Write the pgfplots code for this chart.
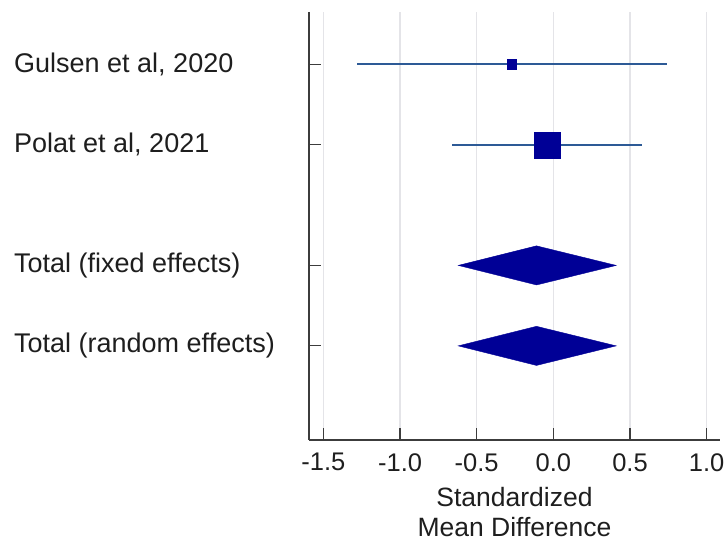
\documentclass[border=0pt]{standalone}
\usepackage{pgfplots}
\pgfplotsset{compat=1.18}
\usepackage{fontspec}
\setmainfont{Liberation Sans}
\definecolor{mk}{RGB}{0,0,150}
\definecolor{ci}{RGB}{45,90,150}
\definecolor{ax}{RGB}{60,60,60}
\definecolor{gr}{RGB}{228,228,232}
\definecolor{tx}{RGB}{30,30,30}
\begin{document}
\begin{tikzpicture}
\begin{axis}[
  scale only axis,
  width=411pt, height=428pt,
  xmin=-1.594, xmax=1.087,
  ymin=0.35, ymax=5.67,
  y dir=reverse,
  axis x line*=bottom, axis y line*=left,
  axis line style={ax, line width=1.5pt},
  xtick={-1.5,-1,-0.5,0,0.5,1},
  xticklabels={-1.5,-1.0,-0.5,0.0,0.5,1.0},
  ytick={1,2,3.5,4.5},
  yticklabels={{Gulsen et al, 2020},{Polat et al, 2021},{Total (fixed effects)},{Total (random effects)}},
  tick align=inside,
  major tick length=12pt,
  tick style={ax, line width=1.2pt},
  xmajorgrids=true,
  grid style={gr, line width=1.5pt},
  /pgf/number format/assume math mode=true,
  every tick label/.append style={text=tx},
  xticklabel style={font=\fontsize{25.5}{30}\selectfont, inner sep=0pt, yshift=-13pt},
  yticklabel style={font=\fontsize{27}{32}\selectfont, anchor=west, inner sep=0pt, xshift=-295pt},
  xlabel={Standardized\\Mean Difference},
  xlabel style={align=center, font=\fontsize{26.5}{30}\selectfont, text=tx, inner sep=0pt, yshift=-16pt},
  clip=false,
]
% confidence intervals
\addplot[ci, line width=2pt, no markers] coordinates {(-1.28,1) (0.74,1)};
\addplot[ci, line width=2pt, no markers] coordinates {(-0.66,2) (0.58,2)};
% point estimates
\addplot[only marks, mark=square*, mark size=4.7pt, mark options={fill=mk, draw=mk}] coordinates {(-0.27,1)};
\addplot[only marks, mark=square*, mark size=13pt, mark options={fill=mk, draw=mk}] coordinates {(-0.04,2)};
% pooled diamonds
\addplot[fill=mk, draw=mk] coordinates {(-0.62,3.5) (-0.11,3.257) (0.41,3.5) (-0.11,3.743)} -- cycle;
\addplot[fill=mk, draw=mk] coordinates {(-0.62,4.5) (-0.11,4.257) (0.41,4.5) (-0.11,4.743)} -- cycle;
\end{axis}
\useasboundingbox ([xshift=-309pt,yshift=-108pt]current axis.south west) rectangle ++(726pt,548pt);
\end{tikzpicture}
\end{document}
